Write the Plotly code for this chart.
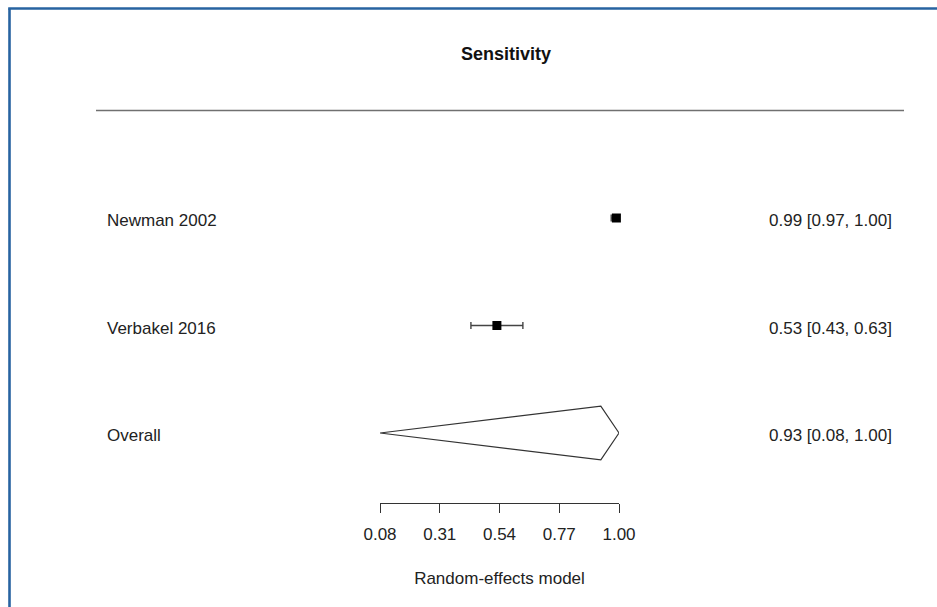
import plotly.graph_objects as go

# ---- data ----
studies = ["Newman 2002", "Verbakel 2016"]
est = [0.99, 0.53]
lo = [0.97, 0.43]
hi = [1.00, 0.63]
rows = [3, 2]
overall_label = "Overall"
overall_est = 0.93
overall_lo = 0.08
overall_hi = 1.00
overall_row = 1
tick_vals = [0.08, 0.31, 0.54, 0.77, 1.00]
tick_text = ["0.08", "0.31", "0.54", "0.77", "1.00"]
title = "Sensitivity"
xlabel = "Random-effects model"

W, H = 937, 607
FONT = "Liberation Sans, Arial, sans-serif"
TXT = "#222222"

# layout helpers (pixel positions)
px0, px1 = 380.0, 619.0      # pixel x of axis ends
axis_py = 503.0              # pixel y of axis line
row_px = 107.5
y_over = 433.0
yr = [overall_row - (axis_py - y_over) / row_px, overall_row + y_over / row_px]

def fx(px):
    return px / W

def fy(py):
    return 1 - py / H

fig = go.Figure()

# study squares with CIs
fig.add_trace(go.Scatter(
    x=est, y=rows, mode="markers",
    marker=dict(symbol="square", size=9, color="black"),
    error_x=dict(type="data", symmetric=False,
                 array=[h - e for h, e in zip(hi, est)],
                 arrayminus=[e - l for e, l in zip(est, lo)],
                 color="#444444", thickness=1.4, width=3.5),
    cliponaxis=False, hoverinfo="skip", showlegend=False))

# diamond for overall
dh = 0.25
fig.add_trace(go.Scatter(
    x=[overall_lo, overall_est, overall_hi, overall_est, overall_lo],
    y=[overall_row, overall_row + dh, overall_row, overall_row - dh, overall_row],
    mode="lines", fill="toself", fillcolor="white",
    line=dict(color="#333333", width=1.2),
    cliponaxis=False, hoverinfo="skip", showlegend=False))

ann = []
labels = studies + [overall_label]
all_rows = rows + [overall_row]
rtexts = [f"{e:.2f} [{l:.2f}, {h:.2f}]" for e, l, h in zip(est, lo, hi)]
rtexts.append(f"{overall_est:.2f} [{overall_lo:.2f}, {overall_hi:.2f}]")
for lab, r, rt in zip(labels, all_rows, rtexts):
    ann.append(dict(x=fx(105), y=r - 0.025, xref="paper", yref="y", text=lab,
                    showarrow=False, xanchor="left", yanchor="middle",
                    font=dict(family=FONT, size=17, color=TXT)))
    ann.append(dict(x=fx(894), y=r - 0.025, xref="paper", yref="y", text=rt,
                    showarrow=False, xanchor="right", yanchor="middle",
                    font=dict(family=FONT, size=17, color=TXT)))
ann.append(dict(x=fx(506), y=fy(54), xref="paper", yref="paper",
                text="<b>" + title + "</b>", showarrow=False,
                xanchor="center", yanchor="middle",
                font=dict(family=FONT, size=18, color="#111111")))

shapes = [
    dict(type="line", xref="paper", yref="y", x0=fx(96), x1=fx(904),
         y0=4, y1=4, line=dict(color="#707070", width=1.3)),
    dict(type="line", xref="paper", yref="paper", x0=fx(9.5), x1=fx(9.5),
         y0=0, y1=fy(8.5), line=dict(color="#2763a1", width=2.6)),
    dict(type="line", xref="paper", yref="paper", x0=fx(8.2), x1=1,
         y0=fy(8.5), y1=fy(8.5), line=dict(color="#2763a1", width=2.6)),
]

fig.update_layout(
    width=W, height=H,
    margin=dict(l=0, r=0, t=0, b=0, pad=0),
    paper_bgcolor="white", plot_bgcolor="rgba(0,0,0,0)",
    showlegend=False,
    annotations=ann, shapes=shapes,
    xaxis=dict(domain=[fx(px0), fx(px1)], range=[overall_lo, overall_hi],
               automargin=False,
               showline=True, linecolor="#333333", linewidth=1.2,
               ticks="outside", ticklen=9, tickwidth=1.2, tickcolor="#333333",
               ticklabelstandoff=6,
               tickvals=tick_vals, ticktext=tick_text,
               tickfont=dict(family=FONT, size=17, color=TXT),
               showgrid=False, zeroline=False,
               title=dict(text=xlabel, standoff=29,
                          font=dict(family=FONT, size=17, color=TXT))),
    yaxis=dict(domain=[fy(axis_py), 1], range=yr, visible=False,
               automargin=False),
)

fig.write_html("out.html", config={"displayModeBar": False},
               post_script="document.body.style.margin='0px';")
